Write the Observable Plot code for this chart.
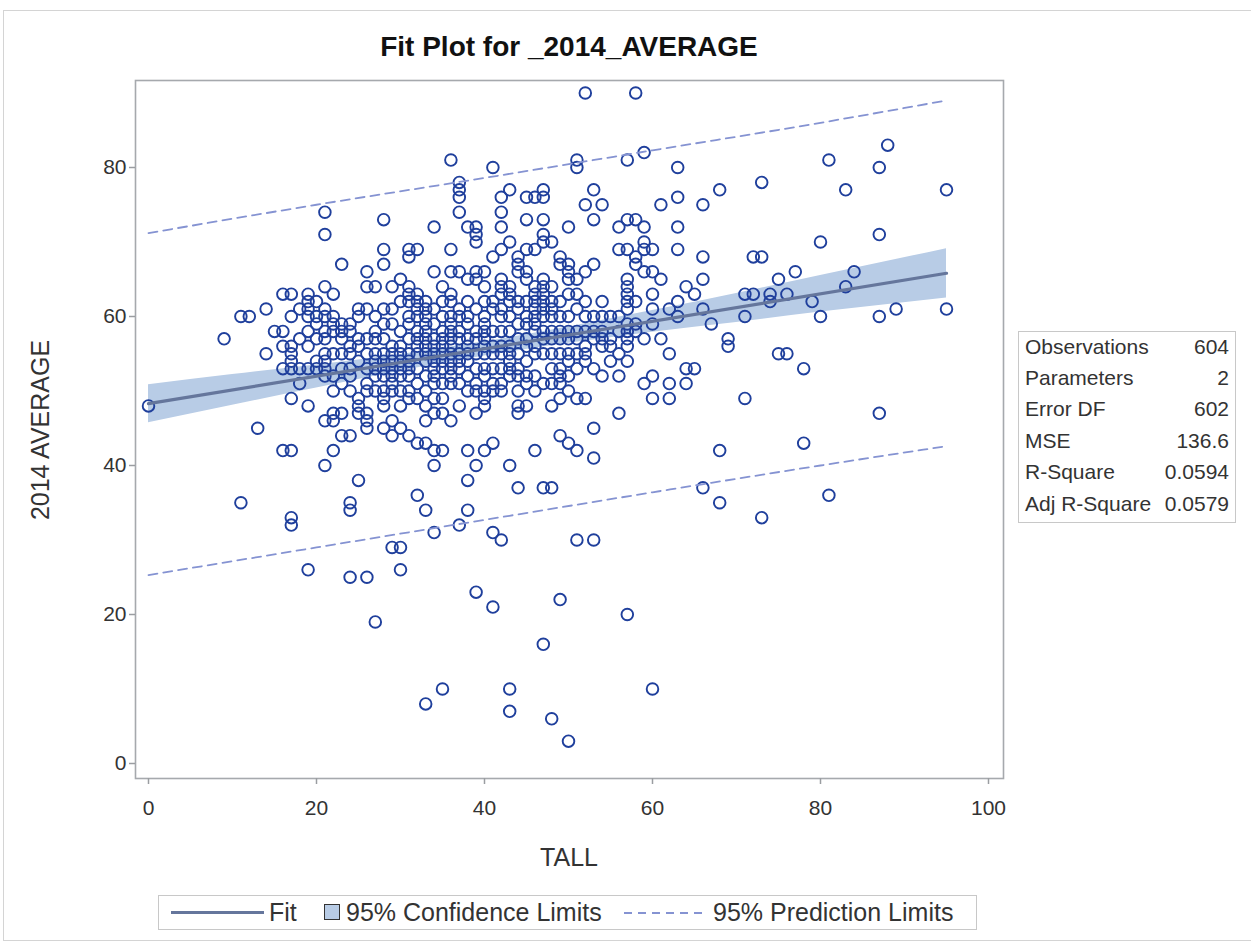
<!DOCTYPE html>
<html><head><meta charset="utf-8">
<script src="https://cdn.jsdelivr.net/npm/d3@7"></script>
<script src="https://cdn.jsdelivr.net/npm/@observablehq/plot@0.6"></script>
<style>
body{margin:0;background:#fff;font-family:"Liberation Sans",Arial,Helvetica,sans-serif;color:#333;}
#page{position:relative;width:1251px;height:943px;overflow:hidden;}
#outer{position:absolute;left:3px;top:10px;width:1270px;height:929px;border:1px solid #d4d4d4;}
#title{position:absolute;left:0;width:1138px;top:31px;text-align:center;font-weight:bold;font-size:28px;color:#111;}
#chart{position:absolute;left:0;top:70px;}
#ylabel{position:absolute;left:40px;top:430px;transform:translate(-50%,-50%) rotate(-90deg);font-size:25px;white-space:nowrap;}
#xlabel{position:absolute;left:569px;top:857px;transform:translate(-50%,-50%);font-size:25px;white-space:nowrap;}
#stats{position:absolute;left:1018px;top:331px;width:216px;height:190px;border:1px solid #c8c8c8;}
.srow{position:absolute;left:6px;right:6px;height:28px;line-height:28px;font-size:21px;}
.srow .v{position:absolute;right:0;top:0;}
#legend{position:absolute;left:158px;top:895px;width:817px;height:33px;border:1px solid #c8c8c8;font-size:25px;}
.li{position:absolute;top:0;height:33px;line-height:33px;white-space:nowrap;}
</style></head><body>
<div id="page">
  <div id="outer"></div>
  <div id="title">Fit Plot for _2014_AVERAGE</div>
  <div id="chart"></div>
  <div id="ylabel">2014 AVERAGE</div>
  <div id="xlabel">TALL</div>
  <div id="stats"></div>
  <div id="legend"></div>
</div>
<script>
// ---- data ----
const xTicks = [0, 20, 40, 60, 80, 100];
const yTicks = [0, 20, 40, 60, 80];

// fitted line (TALL -> predicted 2014 AVERAGE)
const fitTall = [0, 95];
const fitAvg = [48.3, 65.8];

// 95% confidence band
const bandTall = [0, 10, 20, 30, 40, 50, 60, 70, 80, 95];
const bandLower = [45.75, 48.1, 50.4, 52.7, 54.7, 56.4, 57.9, 59.2, 60.6, 62.5];
const bandUpper = [50.85, 52.2, 53.5, 54.9, 56.6, 58.6, 60.8, 63.1, 65.5, 69.1];

// 95% prediction limits
const predTall = [0, 20, 40, 60, 80, 95];
const predLower = [25.3, 29.0, 32.7, 36.4, 40.0, 42.6];
const predUpper = [71.2, 75.0, 78.6, 82.3, 86.0, 89.0];

const statLabels = ["Observations", "Parameters", "Error DF", "MSE", "R-Square", "Adj R-Square"];
const statValues = ["604", "2", "602", "136.6", "0.0594", "0.0579"];

const legendLabels = ["Fit", "95% Confidence Limits", "95% Prediction Limits"];

// observations [TALL, 2014 AVERAGE]
const observations = [
[0,48],[9,57],[11,60],[11,35],[12,60],[13,45],[14,61],[14,55],[15,58],
[16,63],[16,58],[16,56],[16,53],[16,42],
[17,63],[17,60],[17,56],[17,55],[17,54],[17,53],[17,49],[17,42],[17,33],[17,32],
[18,61],[18,57],[18,53],[18,51],
[19,63],[19,62],[19,61],[19,60],[19,58],[19,56],[19,53],[19,48],[19,26],
[20,62],[20,60],[20,59],[20,57],[20,54],[20,53],
[21,74],[21,71],[21,64],[21,61],[21,60],[21,58],[21,57],[21,55],[21,54],[21,53],[21,52],[21,46],[21,40],
[22,63],[22,60],[22,59],[22,58],[22,55],[22,52],[22,50],[22,47],[22,46],[22,42],
[23,67],[23,59],[23,58],[23,57],[23,55],[23,53],[23,51],[23,47],[23,44],
[24,59],[24,58],[24,56],[24,55],[24,53],[24,52],[24,50],[24,44],[24,35],[24,34],[24,25],
[25,61],[25,60],[25,57],[25,56],[25,54],[25,49],[25,48],[25,47],[25,38],
[26,66],[26,64],[26,61],[26,57],[26,55],[26,53],[26,51],[26,50],[26,47],[26,46],[26,45],[26,25],
[27,64],[27,60],[27,58],[27,57],[27,55],[27,54],[27,53],[27,52],[27,50],[27,19],
[28,73],[28,69],[28,67],[28,61],[28,59],[28,57],[28,55],[28,54],[28,53],[28,52],[28,50],[28,49],[28,48],[28,45],
[29,64],[29,61],[29,59],[29,56],[29,55],[29,54],[29,53],[29,52],[29,51],[29,50],[29,46],[29,44],[29,29],
[30,65],[30,62],[30,58],[30,56],[30,55],[30,54],[30,53],[30,52],[30,50],[30,48],[30,45],[30,29],[30,26],
[31,69],[31,68],[31,64],[31,63],[31,62],[31,60],[31,59],[31,57],[31,55],[31,54],[31,53],[31,52],[31,50],[31,49],[31,44],
[32,69],[32,63],[32,62],[32,61],[32,60],[32,58],[32,57],[32,56],[32,55],[32,53],[32,51],[32,49],[32,43],[32,36],
[33,62],[33,61],[33,60],[33,59],[33,58],[33,57],[33,56],[33,55],[33,54],[33,52],[33,50],[33,48],[33,46],[33,43],[33,34],[33,8],
[34,72],[34,66],[34,61],[34,59],[34,57],[34,56],[34,55],[34,54],[34,53],[34,52],[34,51],[34,49],[34,47],[34,42],[34,40],[34,31],
[35,64],[35,62],[35,60],[35,58],[35,57],[35,56],[35,55],[35,54],[35,53],[35,51],[35,49],[35,47],[35,42],[35,10],
[36,81],[36,69],[36,66],[36,63],[36,62],[36,60],[36,59],[36,58],[36,57],[36,56],[36,55],[36,54],[36,53],[36,52],[36,51],[36,46],
[37,78],[37,77],[37,76],[37,74],[37,66],[37,61],[37,60],[37,58],[37,57],[37,55],[37,54],[37,53],[37,51],[37,48],[37,32],
[38,72],[38,65],[38,62],[38,60],[38,59],[38,57],[38,56],[38,55],[38,54],[38,52],[38,50],[38,42],[38,38],[38,34],
[39,72],[39,71],[39,70],[39,66],[39,65],[39,61],[39,58],[39,57],[39,55],[39,53],[39,51],[39,50],[39,47],[39,40],[39,23],
[40,66],[40,64],[40,62],[40,60],[40,59],[40,58],[40,57],[40,56],[40,55],[40,53],[40,52],[40,50],[40,49],[40,48],[40,42],
[41,80],[41,68],[41,62],[41,61],[41,58],[41,56],[41,55],[41,53],[41,51],[41,50],[41,43],[41,31],[41,21],
[42,76],[42,74],[42,72],[42,69],[42,65],[42,64],[42,63],[42,61],[42,60],[42,58],[42,56],[42,55],[42,53],[42,51],[42,50],[42,30],
[43,77],[43,70],[43,64],[43,63],[43,62],[43,60],[43,58],[43,56],[43,55],[43,54],[43,53],[43,52],[43,40],[43,10],[43,7],
[44,68],[44,67],[44,66],[44,62],[44,61],[44,59],[44,57],[44,55],[44,53],[44,52],[44,50],[44,48],[44,47],[44,37],
[45,76],[45,73],[45,69],[45,66],[45,65],[45,62],[45,60],[45,59],[45,57],[45,56],[45,54],[45,52],[45,51],[45,48],
[46,76],[46,69],[46,64],[46,63],[46,62],[46,61],[46,60],[46,59],[46,58],[46,56],[46,55],[46,52],[46,50],[46,42],
[47,77],[47,76],[47,73],[47,71],[47,70],[47,65],[47,64],[47,63],[47,62],[47,61],[47,60],[47,58],[47,57],[47,55],[47,51],[47,37],[47,16],
[48,70],[48,64],[48,62],[48,61],[48,60],[48,58],[48,57],[48,55],[48,53],[48,51],[48,48],[48,37],[48,6],
[49,68],[49,67],[49,62],[49,60],[49,58],[49,57],[49,55],[49,53],[49,52],[49,51],[49,49],[49,44],[49,22],
[50,72],[50,67],[50,66],[50,65],[50,63],[50,60],[50,58],[50,57],[50,55],[50,54],[50,52],[50,50],[50,43],[50,3],
[51,81],[51,80],[51,65],[51,63],[51,61],[51,58],[51,57],[51,55],[51,53],[51,49],[51,42],[51,30],
[52,90],[52,75],[52,66],[52,62],[52,60],[52,58],[52,56],[52,55],[52,54],[52,49],
[53,77],[53,73],[53,67],[53,60],[53,58],[53,57],[53,53],[53,45],[53,41],[53,30],
[54,75],[54,62],[54,60],[54,58],[54,57],[54,56],[54,52],
[55,60],[55,57],[55,56],[55,54],
[56,72],[56,69],[56,60],[56,58],[56,55],[56,52],[56,47],
[57,81],[57,73],[57,69],[57,65],[57,64],[57,63],[57,62],[57,61],[57,59],[57,58],[57,57],[57,56],[57,54],[57,20],
[58,90],[58,73],[58,68],[58,67],[58,62],[58,59],[58,58],
[59,82],[59,72],[59,70],[59,69],[59,66],[59,57],[59,51],
[60,69],[60,66],[60,63],[60,61],[60,59],[60,52],[60,49],[60,10],
[61,75],[61,65],[61,57],
[62,61],[62,55],[62,51],[62,49],
[63,80],[63,76],[63,72],[63,69],[63,62],[63,60],
[64,64],[64,53],[64,51],
[65,63],[65,53],
[66,75],[66,68],[66,65],[66,61],[66,37],
[67,59],
[68,77],[68,42],[68,35],
[69,57],[69,56],
[71,63],[71,60],[71,49],
[72,68],[72,63],
[73,78],[73,68],[73,33],
[74,63],[74,62],
[75,65],[75,55],
[76,63],[76,55],
[77,66],
[78,53],[78,43],
[79,62],
[80,70],[80,60],
[81,81],[81,36],
[83,77],[83,64],
[84,66],
[87,80],[87,71],[87,60],[87,47],
[88,83],
[89,61],
[95,77],[95,61]
];

// ---- colours ----
const dotColor = "#1f3f9c";
const fitColor = "#65769c";
const bandColor = "#b8cce6";
const predColor = "#8593d2";

const obsRows = observations.map(([t, a]) => ({tall: t, avg: a}));
const fitRows = fitTall.map((t, i) => ({tall: t, avg: fitAvg[i]}));
const bandRows = bandTall.map((t, i) => ({tall: t, lo: bandLower[i], hi: bandUpper[i]}));
const predLowRows = predTall.map((t, i) => ({tall: t, v: predLower[i]}));
const predUpRows = predTall.map((t, i) => ({tall: t, v: predUpper[i]}));

const chart = Plot.plot({
  width: 1010,
  height: 800,
  marginTop: 10,
  marginBottom: 92,
  marginLeft: 135,
  marginRight: 7,
  x: {domain: [0, 100], range: [148, 988]},
  y: {domain: [0, 80], range: [693, 97]},
  style: {fontFamily: '"Liberation Sans", Arial, sans-serif', fontSize: "21px", color: "#333", background: "transparent"},
  marks: [
    Plot.areaY(bandRows, {x: "tall", y1: "lo", y2: "hi", fill: bandColor, curve: "monotone-x"}),
    Plot.dot(obsRows, {x: "tall", y: "avg", r: 5.8, stroke: dotColor, strokeWidth: 1.9, fill: "none"}),
    Plot.line(fitRows, {x: "tall", y: "avg", stroke: fitColor, strokeWidth: 3.2}),
    Plot.line(predUpRows, {x: "tall", y: "v", stroke: predColor, strokeWidth: 1.8, strokeDasharray: "9,6", curve: "monotone-x"}),
    Plot.line(predLowRows, {x: "tall", y: "v", stroke: predColor, strokeWidth: 1.8, strokeDasharray: "9,6", curve: "monotone-x"}),
    Plot.frame({stroke: "#a6a9ad", strokeWidth: 1.6}),
    Plot.axisX({ticks: xTicks, tickSize: 6, tickPadding: 16, stroke: "#9a9da1", strokeWidth: 1.5, label: null}),
    Plot.axisY({ticks: yTicks, tickSize: 6, tickPadding: 3, stroke: "#9a9da1", strokeWidth: 1.5, label: null})
  ]
});
document.getElementById("chart").appendChild(chart);

// stats table
const stats = document.getElementById("stats");
statLabels.forEach((lab, i) => {
  const row = document.createElement("div");
  row.className = "srow";
  row.style.top = (i * 31.4 + 0.5) + "px";
  row.innerHTML = `<span>${lab}</span><span class="v">${statValues[i]}</span>`;
  stats.appendChild(row);
});

// legend
const legend = document.getElementById("legend");
legend.innerHTML = `
  <div class="li" style="left:12px;"><div style="margin-top:15px;width:93px;height:3px;background:${fitColor}"></div></div>
  <div class="li" style="left:110px;">${legendLabels[0]}</div>
  <div class="li" style="left:165px;"><div style="margin-top:8px;width:14px;height:14px;background:${bandColor};border:1.5px solid #333"></div></div>
  <div class="li" style="left:187px;">${legendLabels[1]}</div>
  <div class="li" style="left:465px;"><div style="margin-top:16px;width:78px;height:2px;background:repeating-linear-gradient(to right, ${predColor} 0 8px, transparent 8px 14px)"></div></div>
  <div class="li" style="left:554px;">${legendLabels[2]}</div>`;
</script>
</body></html>
